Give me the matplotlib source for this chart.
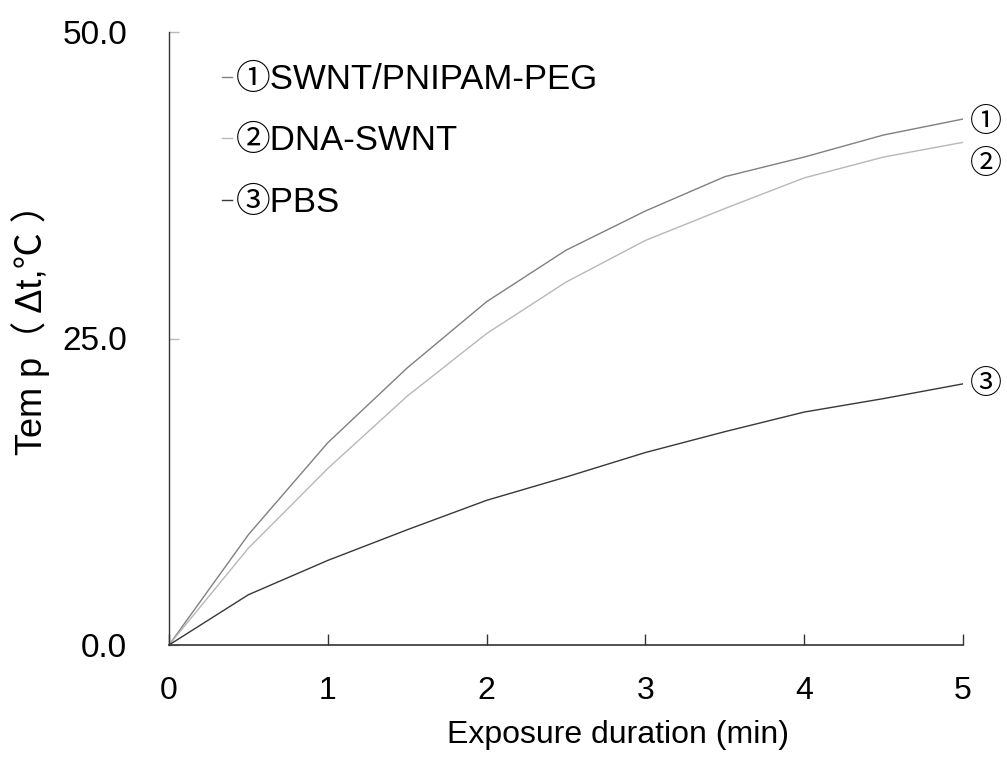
import matplotlib
matplotlib.use("Agg")
import matplotlib.pyplot as plt

plt.rcParams['font.family'] = ['Liberation Sans', 'Noto Sans CJK SC', 'DejaVu Sans']

# exposure time (min)
minutes = [0, 0.5, 1, 1.5, 2, 2.5, 3, 3.5, 4, 4.5, 5]

# temperature rise (delta t, C)
swnt_pnipam_peg = [0, 9.0, 16.5, 22.6, 28.0, 32.2, 35.4, 38.2, 39.8, 41.6, 42.9]
dna_swnt = [0, 7.9, 14.4, 20.3, 25.4, 29.6, 33.0, 35.6, 38.1, 39.8, 41.0]
pbs = [0, 4.1, 6.9, 9.4, 11.8, 13.7, 15.7, 17.4, 19.0, 20.1, 21.3]

labels = ['①SWNT/PNIPAM-PEG', '②DNA-SWNT', '③PBS']
end_marks = ['①', '②', '③']
colors = ['#808080', '#b8b8b8', '#383838']

x_ticks = [0, 1, 2, 3, 4, 5]
y_ticks = [0, 25, 50]

fig = plt.figure(figsize=(10.07, 7.58), dpi=100)
ax = fig.add_axes([169/1007, 1 - 645/758, (963 - 169)/1007, (645 - 32)/758])

series = [swnt_pnipam_peg, dna_swnt, pbs]
for ys, lab, c in zip(series, labels, colors):
    ax.plot(minutes, ys, color=c, lw=1.0, label=lab)

# circled numbers at the end of each curve
offsets = [(5, -3), (5, -16), (5, -1)]
for ys, m, off in zip(series, end_marks, offsets):
    ax.annotate(m, (minutes[-1], ys[-1]), xytext=off, textcoords='offset points',
                fontsize=23, va='center', ha='left', annotation_clip=False)

ax.set_xlim(0, 5)
ax.set_ylim(0, 50)
ax.set_xticks(x_ticks)
ax.set_yticks(y_ticks)
ax.set_yticklabels([f"{v:.1f}" for v in y_ticks])

ax.spines['top'].set_visible(False)
ax.spines['right'].set_visible(False)
ax.spines['left'].set_color('#333333')
ax.spines['bottom'].set_color('#333333')
ax.spines['left'].set_linewidth(1.0)
ax.spines['bottom'].set_linewidth(1.2)

ax.tick_params(axis='x', direction='in', length=8, width=1.0, color='#333333',
               labelsize=23, pad=22)
ax.tick_params(axis='y', direction='in', length=7, width=1.0, color='#bbbbbb',
               labelsize=24, pad=30)

ax.set_xlabel('Exposure duration (min)', fontsize=23)
ax.xaxis.set_label_coords(0.565, -0.123)
ax.set_ylabel('Tem p（ Δt,℃ ）', fontsize=26)
ax.yaxis.set_label_coords(-0.150, 0.53)

ax.legend(loc='upper left', bbox_to_anchor=(222/1007, 1 - 63/758),
          bbox_transform=fig.transFigure, frameon=False, fontsize=25,
          handlelength=0.3, handletextpad=0.1, labelspacing=0.82,
          borderpad=0, borderaxespad=0)

fig.savefig('out.png', dpi=100)
